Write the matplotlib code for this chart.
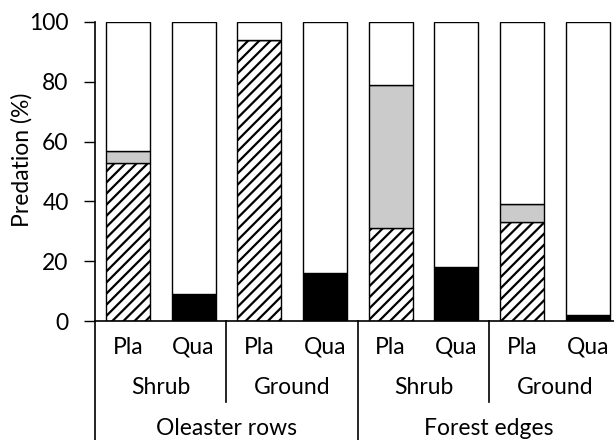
import matplotlib
matplotlib.use("Agg")
import matplotlib.pyplot as plt
from matplotlib import transforms

# data
seed = ["Pla", "Qua", "Pla", "Qua", "Pla", "Qua", "Pla", "Qua"]
position = ["Shrub", "Ground", "Shrub", "Ground"]
habitat = ["Oleaster rows", "Forest edges"]
hatched = [53, 0, 94, 0, 31, 0, 33, 0]
gray = [4, 0, 0, 0, 48, 0, 6, 0]
black = [0, 9, 0, 16, 0, 18, 0, 2]
total = [100, 100, 100, 100, 100, 100, 100, 100]

plt.rcParams['font.family'] = ['Lato', 'DejaVu Sans']
plt.rcParams['hatch.linewidth'] = 1.6
fs = 16.5

fig = plt.figure(figsize=(6.14, 4.40), dpi=100)
ax = fig.add_axes([95/614, 119/440, 525.6/614, 299/440])

x = list(range(len(seed)))
w = 0.67
white = [t - h - g - b for t, h, g, b in zip(total, hatched, gray, black)]
base1 = [h + b for h, b in zip(hatched, black)]
base2 = [a + g for a, g in zip(base1, gray)]

ax.bar(x, black, w, color='black', edgecolor='black', linewidth=1)
ax.bar(x, hatched, w, color='white', edgecolor='black', hatch='///', linewidth=1)
ax.bar(x, gray, w, bottom=base1, color='#cbcbcb', edgecolor='black', linewidth=1)
ax.bar(x, white, w, bottom=base2, color='white', edgecolor='black', linewidth=1)

ax.set_xlim(-0.5, 7.5)
ax.set_ylim(0, 100)
ax.set_yticks([0, 20, 40, 60, 80, 100])
ax.tick_params(axis='y', labelsize=fs, length=8, width=1, pad=11, direction='out')
ax.set_xticks([])
ax.set_ylabel('Predation (%)', fontsize=fs, va='center')
ax.yaxis.set_label_coords(-0.139, 0.538)
for s in ['top', 'right']:
    ax.spines[s].set_visible(False)
for s in ['left', 'bottom']:
    ax.spines[s].set_linewidth(1.2)

tr = transforms.blended_transform_factory(ax.transData, ax.transAxes)
for i, lab in enumerate(seed):
    ax.text(i, -0.087, lab, transform=tr, ha='center', va='center', fontsize=fs)
for j, lab in enumerate(position):
    ax.text(2 * j + 0.5, -0.221, lab, transform=tr, ha='center', va='center', fontsize=fs)
for k, lab in enumerate(habitat):
    ax.text(4 * k + 1.5, -0.358, lab, transform=tr, ha='center', va='center', fontsize=fs)

for xs in [1.5, 5.5]:
    ax.plot([xs, xs], [0, -0.271], transform=tr, color='black', lw=1.2, clip_on=False)
for xs in [-0.5, 3.5]:
    ax.plot([xs, xs], [0, -0.40], transform=tr, color='black', lw=1.2, clip_on=False)

fig.savefig('out.png', dpi=100)
